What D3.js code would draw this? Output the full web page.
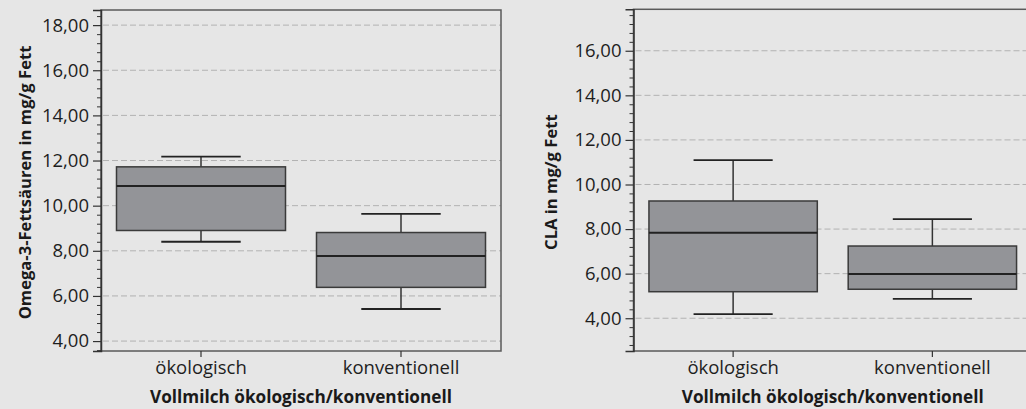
<!DOCTYPE html>
<html>
<head>
<meta charset="utf-8">
<script src="https://cdn.jsdelivr.net/npm/d3@7"></script>
<style>
  body { margin: 0; background: #e6e6e6; }
  svg { display: block; }
</style>
</head>
<body>
<div id="chart"></div>
<script>
// Categories and box statistics
const categories = ['ökologisch', 'konventionell'];

// Omega-3 panel: [lower whisker, Q1, median, Q3, upper whisker]
const omegaStats = [
  [8.40, 8.90, 10.87, 11.72, 12.17],
  [5.42, 6.38, 7.77, 8.81, 9.64]
];
const omegaTicks = [4, 6, 8, 10, 12, 14, 16, 18];

// CLA panel
const claStats = [
  [4.18, 5.19, 7.83, 9.26, 11.09],
  [4.87, 5.30, 5.99, 7.24, 8.45]
];
const claTicks = [4, 6, 8, 10, 12, 14, 16];

const xTitle = 'Vollmilch ökologisch/konventionell';

const width = 1026;
const height = 409;

const svg = d3.select('#chart')
  .append('svg')
  .attr('width', width)
  .attr('height', height)
  .style('background-color', '#e6e6e6');

const fmt = v => d3.format('.2f')(v).replace('.', ',');

function drawPanel(opts) {
  const { left, right, top, bottom, domain, ticks, stats, yTitle, yTitleX } = opts;

  const x = d3.scaleBand()
    .domain(categories)
    .range([left, right])
    .paddingInner(0)
    .paddingOuter(0);

  const y = d3.scaleLinear()
    .domain(domain)
    .range([bottom, top]);

  const g = svg.append('g');

  // Gridlines
  g.append('g')
    .selectAll('line')
    .data(ticks)
    .join('line')
    .attr('x1', left + 2)
    .attr('x2', right)
    .attr('y1', d => y(d))
    .attr('y2', d => y(d))
    .attr('stroke', '#b2b2b2')
    .attr('stroke-width', 1)
    .attr('stroke-dasharray', '6,3');

  // Boxes
  const boxW = x.bandwidth() * 0.845;
  const capW = boxW * 0.47;
  const box = g.append('g')
    .selectAll('g')
    .data(stats)
    .join('g')
    .attr('transform', (d, i) => `translate(${x(categories[i]) + x.bandwidth() / 2}, 0)`);

  // whiskers
  box.append('line')
    .attr('x1', 0).attr('x2', 0)
    .attr('y1', d => y(d[4])).attr('y2', d => y(d[3]))
    .attr('stroke', '#333').attr('stroke-width', 1.5);
  box.append('line')
    .attr('x1', 0).attr('x2', 0)
    .attr('y1', d => y(d[1])).attr('y2', d => y(d[0]))
    .attr('stroke', '#333').attr('stroke-width', 1.5);
  box.append('line')
    .attr('x1', -capW / 2).attr('x2', capW / 2)
    .attr('y1', d => y(d[4])).attr('y2', d => y(d[4]))
    .attr('stroke', '#222').attr('stroke-width', 1.8);
  box.append('line')
    .attr('x1', -capW / 2).attr('x2', capW / 2)
    .attr('y1', d => y(d[0])).attr('y2', d => y(d[0]))
    .attr('stroke', '#222').attr('stroke-width', 1.8);

  box.append('rect')
    .attr('x', -boxW / 2)
    .attr('width', boxW)
    .attr('y', d => y(d[3]))
    .attr('height', d => y(d[1]) - y(d[3]))
    .attr('fill', '#939498')
    .attr('stroke', '#3a3a3a')
    .attr('stroke-width', 1.5);

  box.append('line')
    .attr('x1', -boxW / 2).attr('x2', boxW / 2)
    .attr('y1', d => y(d[2])).attr('y2', d => y(d[2]))
    .attr('stroke', '#222').attr('stroke-width', 2);

  // Frame
  g.append('rect')
    .attr('x', left)
    .attr('y', top)
    .attr('width', right - left)
    .attr('height', bottom - top)
    .attr('fill', 'none')
    .attr('stroke', '#5a5a5a')
    .attr('stroke-width', 1.5);

  // Y axis with minor ticks
  const minor = d3.range(Math.ceil(domain[0] / 0.4) * 0.4, domain[1], 0.4)
    .filter(v => Math.abs(v / 2 - Math.round(v / 2)) > 0.01);

  const yAxis = g.append('g')
    .attr('transform', `translate(${left}, 0)`)
    .call(d3.axisLeft(y).tickValues(ticks).tickFormat(fmt).tickSize(8).tickPadding(4));
  yAxis.select('.domain').attr('stroke', '#333').attr('stroke-width', 1.5);
  yAxis.selectAll('.tick line').attr('stroke', '#333').attr('stroke-width', 1.2);
  yAxis.selectAll('text')
    .style('font-family', '"Open Sans", sans-serif')
    .style('font-size', '18.5px')
    .attr('fill', '#1e1e1e');

  g.append('g')
    .attr('transform', `translate(${left}, 0)`)
    .call(d3.axisLeft(y).tickValues(minor).tickSize(4).tickFormat(''))
    .call(a => a.select('.domain').remove())
    .selectAll('.tick line').attr('stroke', '#333').attr('stroke-width', 1);

  // X axis
  const xAxis = g.append('g')
    .attr('transform', `translate(0, ${bottom})`)
    .call(d3.axisBottom(x).tickSize(6).tickPadding(4));
  xAxis.select('.domain').remove();
  xAxis.selectAll('.tick line').attr('stroke', '#333').attr('stroke-width', 1.2);
  xAxis.selectAll('text')
    .style('font-family', '"Open Sans", sans-serif')
    .style('font-size', '18.5px')
    .attr('fill', '#1e1e1e');

  // Titles
  g.append('text')
    .attr('x', (left + right) / 2)
    .attr('y', 403)
    .attr('text-anchor', 'middle')
    .style('font-family', '"Open Sans", sans-serif')
    .style('font-weight', 'bold')
    .style('font-size', '17.2px')
    .attr('fill', '#1a1a1a')
    .text(xTitle);

  g.append('text')
    .attr('transform', `translate(${yTitleX}, ${(top + bottom) / 2 + 2}) rotate(-90)`)
    .attr('text-anchor', 'middle')
    .style('font-family', '"Open Sans", sans-serif')
    .style('font-weight', 'bold')
    .style('font-size', '16.6px')
    .attr('fill', '#1a1a1a')
    .text(yTitle);
}

drawPanel({
  left: 101, right: 501, top: 10, bottom: 351,
  domain: [3.56, 18.67], ticks: omegaTicks, stats: omegaStats,
  yTitle: 'Omega-3-Fettsäuren in mg/g Fett', yTitleX: 31
});

drawPanel({
  left: 633.5, right: 1032, top: 9.3, bottom: 351,
  domain: [2.53, 17.86], ticks: claTicks, stats: claStats,
  yTitle: 'CLA in mg/g Fett', yTitleX: 557
});
</script>
</body>
</html>
